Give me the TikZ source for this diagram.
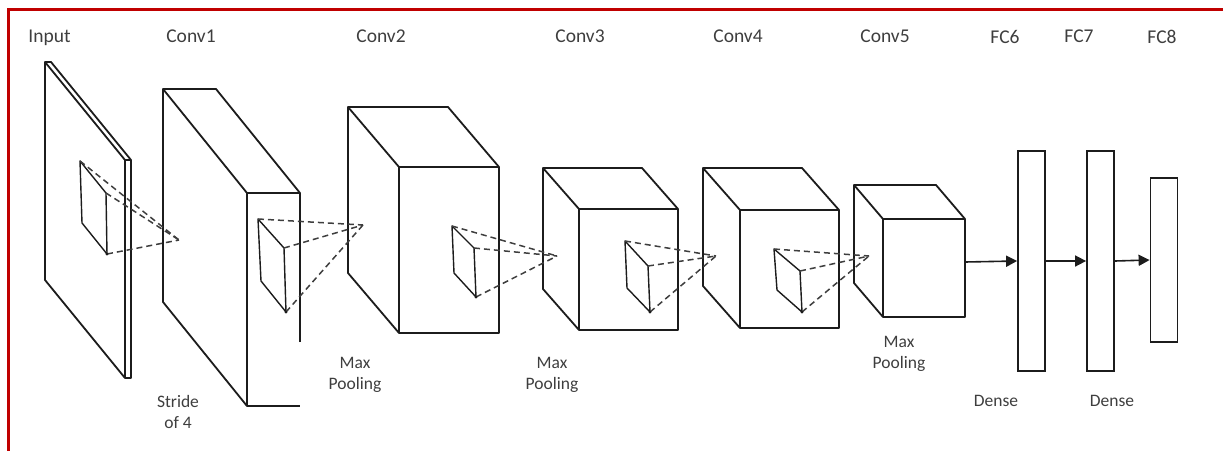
\documentclass[tikz,border=0pt]{standalone}
\usepackage{fontspec}
\setmainfont{Carlito}
\usetikzlibrary{arrows.meta}
\definecolor{framered}{RGB}{192,0,0}
\definecolor{ink}{RGB}{28,28,28}
\definecolor{labelgray}{RGB}{62,62,62}

% Open box: front face at (#1,#2) of size #3 x #4, receding by (#5,#6)
\newcommand\layerbox[6]{%
  \draw[edge] (#1,#2) -- ++(-#5,-#6) -- ++(#3,0) -- ++(#5,#6);
  \draw[edge] (#1,#2) ++(-#5,-#6) -- ++(0,#4) -- ++(#5,#6);
  \draw[edge] (#1,#2) rectangle ++(#3,#4);
}

\begin{document}
\begin{tikzpicture}[x=1pt,y=-1pt,
  edge/.style={draw=ink,line width=1.8pt,line join=round},
  patch/.style={draw=ink,line width=1.4pt,line join=round},
  ray/.style={draw=ink!85,line width=1.5pt,dash pattern=on 6pt off 4pt},
  flow/.style={draw=ink,line width=1.6pt,-{Triangle[length=11pt,width=11pt]}},
  fc/.style={draw=ink,line width=1.8pt,minimum width=27pt,inner sep=0pt},
  toplabel/.style={text=labelgray,font=\fontsize{19.5}{23}\selectfont,anchor=base,inner sep=0pt},
  sublabel/.style={text=labelgray,font=\fontsize{17.5}{21}\selectfont,anchor=base,inner sep=0pt}]

\useasboundingbox (0,0) rectangle (1223,450);

% frame
\draw[framered,line width=3pt] (8,460) -- (8,9) -- (1230,9);

% layer titles
\node[toplabel] (tin) at (49.5,42) {Input};
\node[toplabel] (tc1) at (191,42) {Conv1};
\node[toplabel] (tc2) at (381,42) {Conv2};
\node[toplabel] (tc3) at (580,42) {Conv3};
\node[toplabel] (tc4) at (738,42) {Conv4};
\node[toplabel] (tc5) at (885,42) {Conv5};
\node[toplabel] (tf6) at (1005,43) {FC6};
\node[toplabel] (tf7) at (1079,42) {FC7};
\node[toplabel] (tf8) at (1162,43) {FC8};

% operation notes
\node[sublabel] (s1a) at (178,407) {Stride};
\node[sublabel] (s1b) at (178,428) {of 4};
\node[sublabel] (m2a) at (355,368) {Max};
\node[sublabel] (m2b) at (355,389) {Pooling};
\node[sublabel] (m3a) at (552,368) {Max};
\node[sublabel] (m3b) at (552,389) {Pooling};
\node[sublabel] (m5a) at (899,347) {Max};
\node[sublabel] (m5b) at (899,368) {Pooling};
\node[sublabel] (d6) at (996,406) {Dense};
\node[sublabel] (d7) at (1112,406) {Dense};

% input image plate
\layerbox{125}{160}{6}{218}{80}{98}

% Conv1 block (right edge of front face left short)
\draw[edge] (247,193) -- ++(-84,-104) -- ++(53,0) -- ++(84,104);
\draw[edge] (163,89) -- (163,302) -- (247,406);
\draw[edge] (300,342) -- (300,193) -- (247,193) -- (247,406) -- (300,406);

% Conv2 .. Conv5 blocks
\layerbox{399}{167}{100}{166}{51}{60}
\layerbox{579}{209}{99}{121}{36}{41}
\layerbox{740}{210}{99}{118}{37}{42}
\layerbox{883}{219}{82}{98}{29}{34}

% receptive fields and their projections
\coordinate (a0) at (80,161);  \coordinate (b0) at (106,193);
\coordinate (c0) at (107,254); \coordinate (d0) at (82,223);
\coordinate (t0) at (179,240);
\coordinate (a1) at (258,219); \coordinate (b1) at (284,248);
\coordinate (c1) at (286,312); \coordinate (d1) at (261,281);
\coordinate (t1) at (363,225);
\coordinate (a2) at (452,226); \coordinate (b2) at (474,248);
\coordinate (c2) at (476,297); \coordinate (d2) at (454,273);
\coordinate (t2) at (557,256);
\coordinate (a3) at (625,241); \coordinate (b3) at (648,266);
\coordinate (c3) at (650,312); \coordinate (d3) at (627,288);
\coordinate (t3) at (716,256);
\coordinate (a4) at (774,249); \coordinate (b4) at (800,271);
\coordinate (c4) at (802,312); \coordinate (d4) at (777,290);
\coordinate (t4) at (869,256);

\foreach \k in {0,...,4}{
  \draw[patch] (a\k) -- (b\k) -- (c\k) -- (d\k) -- cycle;
  \draw[ray] (a\k) -- (t\k);
  \draw[ray] (b\k) -- (t\k);
  \draw[ray] (c\k) -- (t\k);
  \fill[ink] (c\k) circle (1.6pt);
}

% fully connected layers
\node[fc,minimum height=220pt] (fc6) at (1031.5,261) {};
\node[fc,minimum height=220pt] (fc7) at (1100.5,261) {};
\node[fc,minimum height=164pt] (fc8) at (1164,260) {};

\coordinate (c5out) at (965,262);
\draw[flow] (c5out) -- (fc6.west);
\draw[flow] (fc6.east) -- (fc7.west);
\draw[flow] (fc7.east) -- (fc8.west);
\end{tikzpicture}
\end{document}
